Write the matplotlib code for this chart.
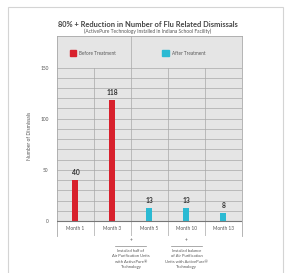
import matplotlib
matplotlib.use("Agg")
import matplotlib.pyplot as plt
from matplotlib.patches import Rectangle

months = ["Month 1", "Month 3", "Month 5", "Month 10", "Month 13"]
dismissals = [40, 118, 13, 13, 8]
phase = ["before", "before", "after", "after", "after"]
legend_labels = ["Before Treatment", "After Treatment"]
notes = [
    (2.0, "Installed half of\nAir Purification Units\nwith ActivePure®\nTechnology"),
    (3.5, "Installed balance\nof Air Purification\nUnits with ActivePure®\nTechnology"),
]

RED = "#d8202c"
CYAN = "#2bbad3"
BG = "#e5e5e5"
GRID = "#a8a8a8"
TXT = "#555555"

plt.rcParams["font.family"] = ["Lato", "DejaVu Sans"]

fig = plt.figure(figsize=(2.89, 2.73), dpi=100)
fig.patches.append(Rectangle((0.028, -0.01), 0.951, 0.985, transform=fig.transFigure,
                             fill=False, edgecolor="#d4d4d4", lw=0.8))

ax = fig.add_axes([0.197, 0.1355, 0.640, 0.733])
ymin, ymax = -14.7, 181
ax.set_xlim(0, 5)
ax.set_ylim(ymin, ymax)
ax.axhspan(0, ymax, color=BG, zorder=0, lw=0)

# grid
for y in range(10, 151, 10):
    ax.plot([0, 5], [y, y], color=GRID, lw=0.5, zorder=1)
for x in range(1, 5):
    top = ymax if x == 2 else 150
    ax.plot([x, x], [ymin, top], color=GRID, lw=0.5, zorder=1)
ax.axhline(0, color="#777777", lw=0.8, zorder=3)

for s in ["top", "left", "right"]:
    ax.spines[s].set_color(GRID)
    ax.spines[s].set_linewidth(0.6)
ax.spines["bottom"].set_visible(False)

xs = [i + 0.5 for i in range(len(months))]
colors = [RED if p == "before" else CYAN for p in phase]
ax.bar(xs, dismissals, width=0.16, color=colors, zorder=2)
for x, v in zip(xs, dismissals):
    ax.text(x, v + 4, str(v), ha="center", va="bottom", fontsize=4.9,
            fontweight="bold", color="#333333")

for x, m in zip(xs, months):
    ax.text(x, -7.5, m, ha="center", va="center", fontsize=3.4, color=TXT)

ax.set_xticks([])
ax.set_yticks([0, 50, 100, 150])
ax.tick_params(axis="y", length=0, labelsize=3.4, labelcolor=TXT, pad=6)
ax.set_ylabel("Number of Dismissals", fontsize=3.6, color=TXT, labelpad=6)

# legend band
for x0, c, lab in [(0.35, RED, legend_labels[0]), (2.85, CYAN, legend_labels[1])]:
    ax.add_patch(Rectangle((x0, 161), 0.17, 6, color=c, zorder=3))
    ax.text(x0 + 0.26, 164, lab, ha="left", va="center", fontsize=3.3, color=TXT)

# notes below the axis
for x, txt in notes:
    ax.text(x, -18.8, "+", ha="center", va="center", fontsize=3.5, color=TXT, clip_on=False)
    ax.plot([x - 0.42, x + 0.42], [-24.5, -24.5], color="#888888", lw=0.5, clip_on=False)
    ax.text(x, -27.5, txt, ha="center", va="top", fontsize=3.0, color=TXT,
            linespacing=1.45, clip_on=False)

fig.text(0.513, 0.912, "80% + Reduction in Number of Flu Related Dismissals",
         ha="center", va="center", fontsize=5.4, fontweight="bold", color="#444444")
fig.text(0.511, 0.884, "(ActivePure Technology Installed in Indiana School Facility)",
         ha="center", va="center", fontsize=3.5, color=TXT)

fig.savefig("out.png", dpi=100)
